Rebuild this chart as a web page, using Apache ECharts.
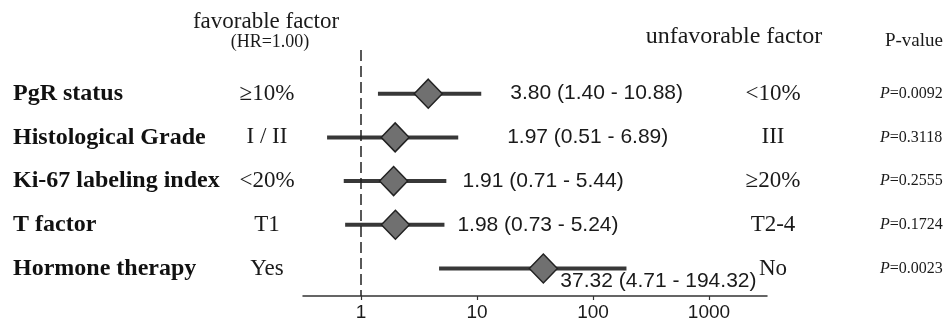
<!DOCTYPE html>
<html>
<head>
<meta charset="utf-8">
<script src="https://cdn.jsdelivr.net/npm/echarts@6/dist/echarts.min.js"></script>
<style>
  html, body { margin: 0; padding: 0; background: #fff; }
  #main { width: 949px; height: 323px; }
</style>
</head>
<body>
<div id="main"></div>
<script>
// forest plot data
var factors = ['PgR status', 'Histological Grade', 'Ki-67 labeling index', 'T factor', 'Hormone therapy'];
var favorable = ['≥10%', 'I / II', '<20%', 'T1', 'Yes'];
var unfavorable = ['<10%', 'III', '≥20%', 'T2-4', 'No'];
var hr = [3.80, 1.97, 1.91, 1.98, 37.32];
var ciLow = [1.40, 0.51, 0.71, 0.73, 4.71];
var ciHigh = [10.88, 6.89, 5.44, 5.24, 194.32];
var pValues = ['0.0092', '0.3118', '0.2555', '0.1724', '0.0023'];
var xTicks = [1, 10, 100, 1000];

var chart = echarts.init(document.getElementById('main'));

var serif = 'Liberation Serif';
var sans = 'Liberation Sans';

// where each HR text sits, relative to its diamond
var hrLabelShift = [[82, 0], [112, 0], [69, 0], [62, 0], [17, 13]];

function rowLabel(list) {
  return function (v) {
    return Number.isInteger(v) && list[v] !== undefined ? list[v] : '';
  };
}

var yBase = {
  type: 'value',
  min: -1,
  max: 4.63,
  interval: 1,
  inverse: true,
  axisLine: { show: false },
  axisTick: { show: false },
  splitLine: { show: false }
};

var series = [];
// confidence intervals
for (var i = 0; i < factors.length; i++) {
  series.push({
    type: 'line',
    data: [[ciLow[i], i], [ciHigh[i], i]],
    symbol: 'none',
    silent: true,
    z: 2,
    lineStyle: { color: '#383838', width: 4 }
  });
}

// hazard ratio diamonds with their text
series.push({
  type: 'scatter',
  symbol: 'diamond',
  symbolSize: [28, 29],
  z: 3,
  itemStyle: { color: '#707070', borderColor: '#222', borderWidth: 1.5, opacity: 1 },
  data: hr.map(function (v, k) {
    return {
      value: [v, k],
      label: {
        show: true,
        position: 'inside',
        align: 'left',
        offset: hrLabelShift[k],
        formatter: v.toFixed(2) + ' (' + ciLow[k].toFixed(2) + ' - ' + ciHigh[k].toFixed(2) + ')',
        color: '#1a1a1a',
        fontFamily: sans,
        fontSize: 21
      }
    };
  }),
  markLine: {
    silent: true,
    symbol: 'none',
    label: { show: false },
    lineStyle: { color: '#222', type: [11, 5], width: 1.5 },
    data: [{ xAxis: 1 }]
  }
});

var option = {
  animation: false,
  backgroundColor: '#fff',
  grid: { left: 303, right: 182, top: 50, bottom: 27 },
  xAxis: {
    type: 'log',
    logBase: 10,
    min: Math.pow(10, -0.5),
    max: Math.pow(10, 3.5),
    splitLine: { show: false },
    axisLine: { onZero: false, lineStyle: { color: '#333', width: 1.5 } },
    axisTick: { customValues: xTicks, length: 4, lineStyle: { color: '#333', width: 1.2 } },
    axisLabel: {
      customValues: xTicks,
      margin: 7,
      color: '#1a1a1a',
      fontFamily: sans,
      fontSize: 19,
      formatter: function (v) { return String(Math.round(v)); }
    }
  },
  yAxis: [
    Object.assign({}, yBase, {
      position: 'left',
      axisLabel: {
        formatter: rowLabel(factors), align: 'left', margin: 290,
        color: '#111', fontFamily: serif, fontWeight: 'bold', fontSize: 24
      }
    }),
    Object.assign({}, yBase, {
      position: 'left',
      axisLabel: {
        formatter: rowLabel(favorable), align: 'center', margin: 36,
        color: '#1a1a1a', fontFamily: serif, fontSize: 23
      }
    }),
    Object.assign({}, yBase, {
      position: 'right',
      axisLabel: {
        formatter: rowLabel(unfavorable), align: 'center', margin: 6,
        color: '#1a1a1a', fontFamily: serif, fontSize: 23
      }
    }),
    Object.assign({}, yBase, {
      position: 'right',
      axisLabel: {
        formatter: function (v) {
          return Number.isInteger(v) && pValues[v] !== undefined ? '{i|P}=' + pValues[v] : '';
        },
        align: 'left', margin: 113,
        color: '#1a1a1a', fontFamily: serif, fontSize: 16,
        rich: { i: { fontStyle: 'italic', fontFamily: serif, fontSize: 16, color: '#1a1a1a' } }
      }
    })
  ],
  graphic: [
    { type: 'text', x: 266, y: 22, style: { text: 'favorable factor', fontFamily: serif, fontSize: 23, fill: '#1a1a1a', textAlign: 'center', textVerticalAlign: 'middle' } },
    { type: 'text', x: 270, y: 42, style: { text: '(HR=1.00)', fontFamily: serif, fontSize: 18, fill: '#1a1a1a', textAlign: 'center', textVerticalAlign: 'middle' } },
    { type: 'text', x: 734, y: 37, style: { text: 'unfavorable factor', fontFamily: serif, fontSize: 24, fill: '#1a1a1a', textAlign: 'center', textVerticalAlign: 'middle' } },
    { type: 'text', x: 914, y: 41, style: { text: 'P-value', fontFamily: serif, fontSize: 19, fill: '#1a1a1a', textAlign: 'center', textVerticalAlign: 'middle' } }
  ],
  series: series
};

chart.setOption(option);
</script>
</body>
</html>
